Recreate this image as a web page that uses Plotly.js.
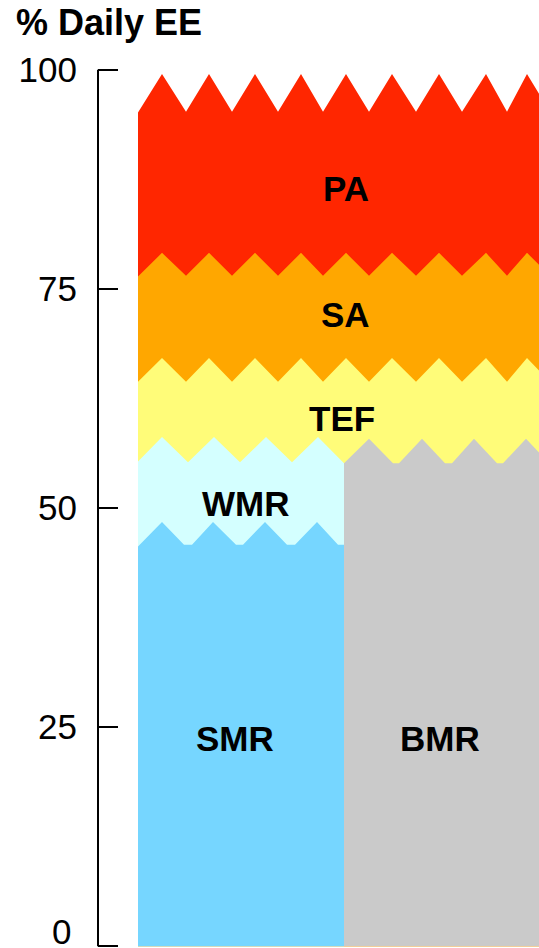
<!DOCTYPE html>
<html>
<head>
<meta charset="utf-8">
<script src="https://cdn.plot.ly/plotly-3.0.1.min.js"></script>
<style>html,body{margin:0;padding:0;background:#fff;}#chart{width:539px;height:948px;}</style>
</head>
<body>
<div id="chart"></div>
<script>
// Horizontal positions along the bar (px-like units from the left edge of the bar)
const upperX = [0, 24, 48, 71, 94, 117, 140, 163, 185, 208, 231, 254, 278, 301, 324, 348, 369, 389, 412];
// Cumulative tops (% daily EE) of the upper layers (zig-zag edges)
const paTop  = [95.1, 99.5, 95.2, 99.5, 95.2, 99.5, 95.2, 99.5, 95.2, 99.5, 95.2, 99.5, 95.2, 99.5, 95.2, 99.5, 95.2, 99.5, 95.2];
const saTop  = [76.4, 79.1, 76.5, 79.1, 76.5, 79.1, 76.5, 79.1, 76.5, 79.1, 76.5, 79.1, 76.5, 79.1, 76.5, 79.1, 76.5, 79.1, 76.5];
const tefTop = [64.4, 67.1, 64.4, 67.1, 64.4, 67.1, 64.4, 67.1, 64.4, 67.1, 64.4, 67.1, 64.4, 67.1, 64.4, 67.1, 64.4, 67.1, 64.4];

// Left column: WMR on top of SMR
const wmrX   = [0, 24, 50, 76, 102, 128, 154, 180, 206];
const wmrTop = [55.3, 58.1, 55.2, 58.1, 55.2, 58.1, 55.2, 58.1, 55.1];
const smrX   = [0, 24, 46, 54, 75, 98, 105, 127, 149, 157, 179, 200, 206];
const smrTop = [45.6, 48.4, 45.8, 45.8, 48.4, 45.8, 45.8, 48.4, 45.8, 45.8, 48.4, 45.8, 45.8];

// Right column: BMR
const bmrX   = [206, 231, 255, 261, 284, 307, 314, 336, 359, 365, 388, 411, 418];
const bmrTop = [55.1, 57.9, 55.1, 55.1, 57.9, 55.1, 55.1, 57.9, 55.1, 55.1, 57.9, 55.1, 55.1];

// Labels
const labelText = ['PA', 'SA', 'TEF', 'WMR', 'SMR', 'BMR'];
const labelX    = [208, 207, 204, 107, 97, 302];
const labelY    = [86.4, 72.1, 60.2, 50.5, 23.7, 23.7];

const yTicks = [0, 25, 50, 75, 100];
const yTickText = ['', '25', '50', '75', '100']; // "0" is drawn lifted, as in the source

const colors = {
  PA: '#FF2600', SA: '#FFA700', TEF: '#FFFC79',
  WMR: '#D4FFFF', SMR: '#76D6FF', BMR: '#CACACA'
};

function layer(x, y, color, name) {
  return {
    type: 'scatter', x: x, y: y, name: name,
    mode: 'none', fill: 'tozeroy', fillcolor: color,
    hoverinfo: 'skip', showlegend: false
  };
}

const data = [
  layer(upperX, paTop, colors.PA, 'PA'),
  layer(upperX, saTop, colors.SA, 'SA'),
  layer(upperX, tefTop, colors.TEF, 'TEF'),
  layer(bmrX, bmrTop, colors.BMR, 'BMR'),
  layer(wmrX, wmrTop, colors.WMR, 'WMR'),
  layer(smrX, smrTop, colors.SMR, 'SMR')
];

const font = 'Liberation Sans, Arial, sans-serif';

const annotations = labelText.map((t, i) => ({
  x: labelX[i], y: labelY[i], xref: 'x', yref: 'y',
  text: '<b>' + t + '</b>', showarrow: false,
  font: {family: font, size: 35, color: '#000'},
  xanchor: 'center', yanchor: 'middle'
}));
annotations.push({
  x: 0, xref: 'paper', y: yTicks[0] + 1.7, yref: 'y',
  text: String(yTicks[0]), showarrow: false,
  font: {family: font, size: 35, color: '#000'},
  xanchor: 'right', yanchor: 'middle', xshift: -25, height: 28
});

const layout = {
  width: 539, height: 948,
  margin: {l: 98, r: 0, t: 67, b: 0, pad: 0},
  paper_bgcolor: '#fff', plot_bgcolor: '#fff',
  showlegend: false,
  title: {
    text: '<b>% Daily EE</b>',
    font: {family: font, size: 36, color: '#000'},
    xref: 'container', yref: 'container',
    x: 16 / 539, xanchor: 'left',
    y: 1 - 10 / 948, yanchor: 'top'
  },
  xaxis: {range: [-40, 401], visible: false, fixedrange: true},
  yaxis: {
    range: [-0.2, 100.3], tickvals: yTicks, ticktext: yTickText,
    ticks: 'inside', ticklen: 20, tickwidth: 2, tickcolor: '#000',
    showline: false,
    showgrid: false, zeroline: false,
    tickfont: {family: font, size: 35, color: '#000'},
    ticklabelstandoff: 20, fixedrange: true
  },
  shapes: [{
    type: 'line', xref: 'paper', yref: 'y',
    x0: 0, x1: 0, y0: yTicks[0], y1: yTicks[yTicks.length - 1],
    line: {color: '#000', width: 2}
  }],
  annotations: annotations
};

Plotly.newPlot('chart', data, layout, {displayModeBar: false, staticPlot: true});
</script>
</body>
</html>
